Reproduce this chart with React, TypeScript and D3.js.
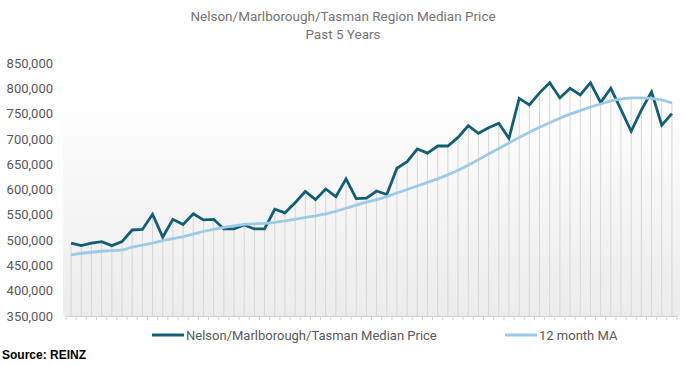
import { useEffect, useRef } from "react";
import * as d3 from "d3";

// monthly values, 5 years (60 months)
const medianPrice = [
  494, 489, 494, 497, 489, 497, 520, 521, 551, 506,
  541, 531, 552, 540, 541, 522, 522, 530, 522, 522,
  561, 554, 574, 596, 580, 601, 586, 621, 582, 583,
  597, 590, 642, 655, 680, 672, 686, 686, 703, 726,
  711, 722, 731, 701, 780, 767, 791, 811, 781, 800,
  787, 811, 772, 800, 758, 715, 757, 793, 727, 750,
].map((v) => v * 1000);

const movingAvg = [
  471, 474, 476, 478, 479, 480, 486, 490, 494, 499,
  503, 507, 512, 517, 521, 525, 528, 531, 532, 533,
  535, 538, 541, 545, 548, 552, 557, 563, 569, 575,
  580, 586, 593, 600, 607, 614, 621, 629, 638, 648,
  659, 670, 681, 692, 703, 713, 723, 732, 741, 749,
  756, 763, 769, 775, 779, 781, 781, 780, 777, 771,
].map((v) => v * 1000);

const months = d3.range(medianPrice.length);
const yTicks = [350000, 400000, 450000, 500000, 550000, 600000, 650000, 700000, 750000, 800000, 850000];
const seriesNames = ["Nelson/Marlborough/Tasman Median Price", "12 month MA"];
const titleLines = ["Nelson/Marlborough/Tasman Region Median Price", "Past 5 Years"];

const App = () => {
  const ref = useRef<HTMLDivElement>(null);

  useEffect(() => {
    if (!ref.current) return;

    const width = 686;
    const height = 366;
    const marginTop = 63;
    const marginLeft = 66;
    const marginRight = 9;
    const plotBottom = 316;
    const darkColor = "#135e77";
    const lightColor = "#9dcae7";
    const textColor = "#595959";

    d3.select(ref.current).selectAll("*").remove();

    const x = d3
      .scaleBand<number>()
      .domain(months)
      .range([marginLeft, width - marginRight]);

    const y = d3
      .scaleLinear()
      .domain([350000, 850000])
      .range([plotBottom, marginTop]);

    const svg = d3
      .select(ref.current)
      .append("svg")
      .attr("width", width)
      .attr("height", height)
      .attr("viewBox", [0, 0, width, height])
      .style("font-family", "Roboto, sans-serif");

    // background gradient
    const grad = svg
      .append("defs")
      .append("linearGradient")
      .attr("id", "bg")
      .attr("x1", 0)
      .attr("y1", 0)
      .attr("x2", 0)
      .attr("y2", 1);
    grad.append("stop").attr("offset", 0).attr("stop-color", "#ffffff");
    grad.append("stop").attr("offset", 1).attr("stop-color", "#ececec");

    svg
      .append("rect")
      .attr("x", marginLeft - 3)
      .attr("y", 92)
      .attr("width", width - marginRight - marginLeft + 6)
      .attr("height", plotBottom - 92)
      .attr("fill", "url(#bg)");

    // title
    svg
      .append("g")
      .selectAll("text")
      .data(titleLines)
      .join("text")
      .attr("x", width / 2)
      .attr("y", (_, i) => 21 + i * 18)
      .attr("text-anchor", "middle")
      .attr("font-size", 13.5)
      .attr("fill", "#757575")
      .text((d) => d);

    const cx = (i: number) => (x(i) ?? 0) + x.bandwidth() / 2;

    // drop lines
    svg
      .append("g")
      .attr("stroke", "#d6d6d6")
      .attr("stroke-width", 1)
      .selectAll("line")
      .data(months)
      .join("line")
      .attr("x1", (i) => cx(i))
      .attr("x2", (i) => cx(i))
      .attr("y1", (i) => y(Math.max(medianPrice[i], movingAvg[i])))
      .attr("y2", plotBottom);

    // x axis
    svg
      .append("g")
      .attr("transform", `translate(0,${plotBottom})`)
      .call(d3.axisBottom(x).tickSize(0).tickFormat(() => ""))
      .call((g) => g.select(".domain").attr("stroke", "#d0d0d0"))
      .call((g) =>
        g
          .selectAll("line.edge")
          .data(d3.range(months.length + 1))
          .join("line")
          .attr("class", "edge")
          .attr("stroke", "#d0d0d0")
          .attr("x1", (i) => marginLeft + i * x.step())
          .attr("x2", (i) => marginLeft + i * x.step())
          .attr("y1", 0)
          .attr("y2", 4)
      );

    // y axis
    svg
      .append("g")
      .attr("transform", `translate(${marginLeft - 13},0)`)
      .call(
        d3
          .axisLeft(y)
          .tickValues(yTicks)
          .tickSize(0)
          .tickPadding(0)
          .tickFormat(d3.format(",")  as any)
      )
      .call((g) => g.select(".domain").remove())
      .call((g) =>
        g
          .selectAll("text")
          .attr("font-size", 13)
          .attr("font-family", "Roboto, sans-serif")
          .attr("fill", textColor)
      );

    const line = (vals: number[]) =>
      d3
        .line<number>()
        .x((i) => cx(i))
        .y((i) => y(vals[i]))(months);

    svg
      .append("path")
      .attr("d", line(medianPrice))
      .attr("fill", "none")
      .attr("stroke", darkColor)
      .attr("stroke-width", 2.8)
      .attr("stroke-linejoin", "miter");

    svg
      .append("path")
      .attr("d", line(movingAvg))
      .attr("fill", "none")
      .attr("stroke", lightColor)
      .attr("stroke-width", 2.8)
      .attr("stroke-linejoin", "round");

    // legend
    const legendItems = [
      { name: seriesNames[0], color: darkColor, x: 152 },
      { name: seriesNames[1], color: lightColor, x: 505 },
    ];
    const legend = svg
      .append("g")
      .selectAll("g")
      .data(legendItems)
      .join("g")
      .attr("transform", (d) => `translate(${d.x},335)`);
    legend
      .append("line")
      .attr("x1", 0)
      .attr("x2", 32)
      .attr("stroke", (d) => d.color)
      .attr("stroke-width", 3);
    legend
      .append("text")
      .attr("x", 34)
      .attr("dy", "0.35em")
      .attr("font-size", 13)
      .attr("fill", textColor)
      .text((d) => d.name);

    svg
      .append("text")
      .attr("x", 2)
      .attr("y", 359)
      .attr("font-family", "'Liberation Sans', Arial, sans-serif")
      .attr("font-weight", "bold")
      .attr("font-size", 12)
      .attr("fill", "#000")
      .text("Source: REINZ");
  }, []);

  return <div ref={ref} style={{ position: "absolute", left: 0, top: 0 }}></div>;
};

export default App;
